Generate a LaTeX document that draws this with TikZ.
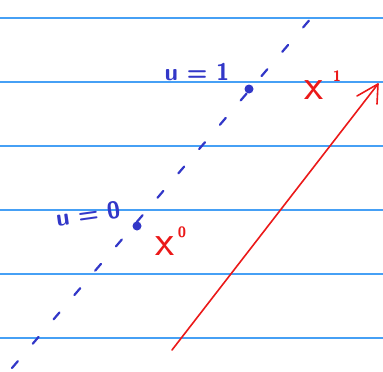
\documentclass[tikz,border=0pt]{standalone}
\definecolor{ruleblue}{RGB}{70,160,245}
\definecolor{penblue}{RGB}{50,55,200}
\definecolor{penred}{RGB}{235,25,25}
\begin{document}
\begin{tikzpicture}[x=1pt,y=-1pt,
  rule/.style={ruleblue,line width=1.1pt},
  dashline/.style={penblue,line width=2.2pt,line cap=round,dash pattern=on 9pt off 23pt},
  dotmark/.style={circle,fill=penblue,inner sep=0pt,minimum size=9pt},
  bluelab/.style={penblue,inner sep=0pt,font=\sffamily\bfseries\fontsize{24}{24}\selectfont},
  redx/.style={penred,inner sep=0pt,font=\sffamily\fontsize{44}{44}\selectfont},
  redsup/.style={penred,inner sep=0pt,font=\sffamily\bfseries\fontsize{15}{15}\selectfont},
  vec/.style={penred,line width=1.6pt,line cap=round,line join=round}]
\useasboundingbox (0,0) rectangle (383,372);
\fill[white] (0,0) rectangle (383,372);
\foreach \yy [count=\i] in {18,82,146,210,274,338}
  \draw[rule] (0,\yy) coordinate (l\i) -- (383,\yy) coordinate (r\i);
\coordinate (p0) at (12,368);
\coordinate (p1) at (318,10);
\draw[dashline] (p0) -- (p1);
\node[dotmark] (d1) at (249,89) {};
\node[dotmark] (d0) at (137,226) {};
\node[bluelab] (u1) at (197,72) {u = 1};
\node[bluelab,rotate=8] (u0) at (88,214) {u = 0};
\node[redx] (x1) at (314,90) {x};
\node[redsup] (s1) at (337,76) {1};
\node[redx] (x0) at (165,246) {x};
\node[redsup] (s0) at (182,232) {0};
\coordinate (a0) at (172,350);
\coordinate (a1) at (378,84);
\coordinate (b1) at (357,96);
\coordinate (b2) at (377,104);
\draw[vec] (a0) -- (a1);
\draw[vec] (b1) -- (a1) -- (b2);
\end{tikzpicture}
\end{document}
